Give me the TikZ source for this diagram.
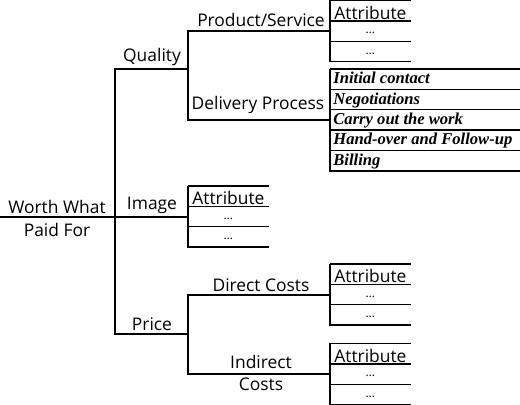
\documentclass[tikz,border=0pt]{standalone}
\usepackage{fontspec}
\setmainfont{Open Sans}
\newfontfamily\stepfont{Liberation Serif}
\usetikzlibrary{positioning}

\begin{document}
\begin{tikzpicture}[x=0.5pt,y=-0.5pt,
 br/.style={line width=1pt},
 bx/.style={line width=0.7pt},
 lbl/.style={font=\fontsize{8.7}{10}\selectfont,inner sep=1.5pt},
 cell/.style={minimum width=40pt,minimum height=9.8pt,inner sep=0pt,font=\fontsize{8.7}{10}\selectfont},
 attr/.style={cell,text height=9.2pt,text depth=0.6pt},
 more/.style={cell,text height=6.3pt,text depth=3.5pt,font=\fontsize{6}{7}\selectfont},
 stepcell/.style={cell,minimum width=95pt,inner xsep=1.5pt,
   execute at begin node={\hbox to 92pt\bgroup},execute at end node={\hfil\egroup},
   text height=7.2pt,text depth=2.6pt,font=\fontsize{8.3}{10}\stepfont\bfseries\itshape}]
\useasboundingbox (0,0) rectangle (520,405);
% tree points
\coordinate (root) at (0,217);
\coordinate (hub) at (115,217);
\coordinate (qual) at (188,69);
\coordinate (img) at (188,217);
\coordinate (price) at (188,334);
% attribute boxes
\node[attr,anchor=north west] (ps1) at (330,0.5) {Attribute};
\node[more,below=0pt of ps1] (ps2) {…};
\node[more,below=0pt of ps2] (ps3) {…};
\node[attr,anchor=north west] (im1) at (188,186) {Attribute};
\node[more,below=0pt of im1] (im2) {…};
\node[more,below=0pt of im2] (im3) {…};
\node[attr,anchor=north west] (dc1) at (330,264) {Attribute};
\node[more,below=0pt of dc1] (dc2) {…};
\node[more,below=0pt of dc2] (dc3) {…};
\node[attr,anchor=north west] (ic1) at (330,343.5) {Attribute};
\node[more,below=0pt of ic1] (ic2) {…};
\node[more,below=0pt of ic2] (ic3) {…};
% delivery steps
\node[stepcell,anchor=north west] (dp1) at (330,69) {Initial contact};
\node[stepcell,below=0pt of dp1] (dp2) {Negotiations};
\node[stepcell,below=0pt of dp2] (dp3) {Carry out the work};
\node[stepcell,below=0pt of dp3] (dp4) {Hand-over and Follow-up};
\node[stepcell,below=0pt of dp4] (dp5) {Billing};
\foreach \r in {ps1,ps2,ps3,im1,im2,im3,dc1,dc2,dc3,ic1,ic2,ic3,dp1,dp2,dp3,dp4,dp5}
  {\draw[bx] (\r.north west) -- (\r.north east);}
\foreach \t/\b in {ps1/ps3,im1/im3,dc1/dc3,ic1/ic3,dp1/dp5}
  {\draw[bx] (\t.north west) -- (\b.south west) -- (\b.south east);}
% branches
\draw[br] (root) -- (hub);
\foreach \c in {qual,img,price} {\draw[br] (hub) |- (\c);}
\draw[br] (qual) |- (ps2.west);
\draw[br] (qual) |- (dp3.west);
\draw[br] (img) -- (im2.west);
\draw[br] (price) |- (dc2.west);
\draw[br] (price) |- (ic2.west);
% labels
\node[lbl,anchor=south] (worth) at (57,217) {Worth What};
\node[lbl,anchor=north,inner ysep=3pt] (paid) at (57,217) {Paid For};
\node[lbl,anchor=south] (lqual) at (152,69) {Quality};
\node[lbl,anchor=south] (limg) at (152,217) {Image};
\node[lbl,anchor=south] (lprice) at (152,334) {Price};
\node[lbl,anchor=south] (lps) at (261,30) {Product/Service};
\node[lbl,anchor=south] (ldp) at (258,117) {Delivery Process};
\node[lbl,anchor=south] (ldc) at (261,295) {Direct Costs};
\node[lbl,anchor=south] (lic) at (261,372) {Indirect};
\node[lbl,anchor=north,inner ysep=3pt] (lic2) at (261,372) {Costs};
\end{tikzpicture}
\end{document}
